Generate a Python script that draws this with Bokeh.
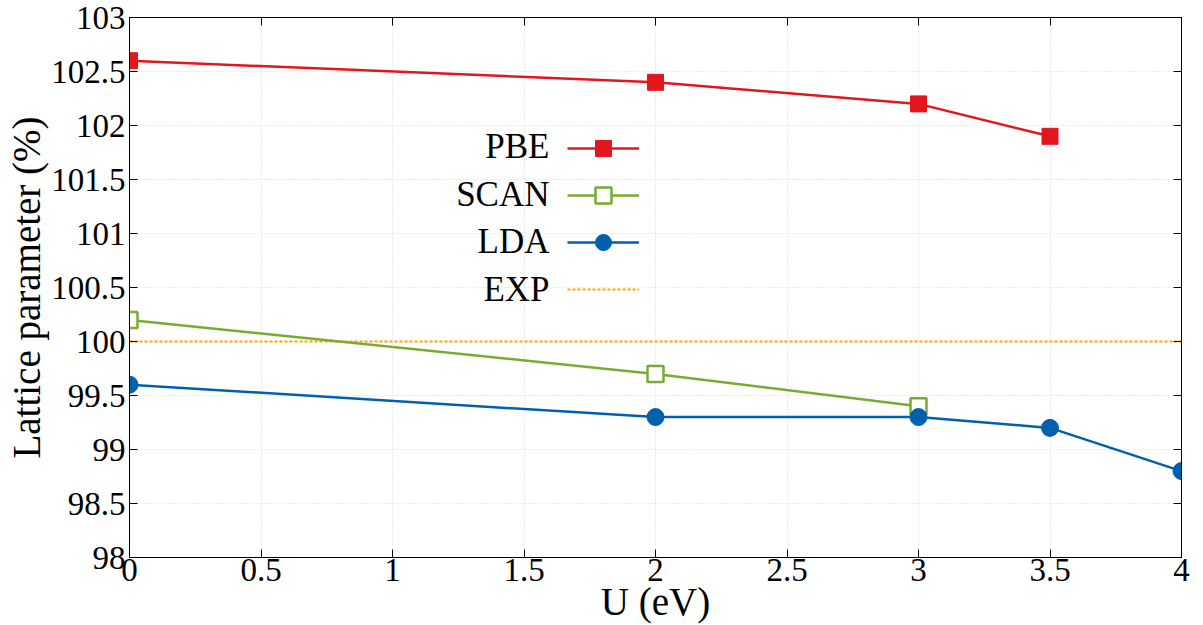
from bokeh.plotting import figure
from bokeh.models import LinearAxis, Legend, LegendItem, Label, FixedTicker, Range1d
from bokeh.core.properties import value
from bokeh.embed import file_html
from bokeh.resources import INLINE

# Data
pbe_u = [0, 2, 3, 3.5]
pbe_val = [102.6, 102.4, 102.2, 101.9]
scan_u = [0, 2, 3]
scan_val = [100.2, 99.7, 99.4]
lda_u = [0, 2, 3, 3.5, 4]
lda_val = [99.6, 99.3, 99.3, 99.2, 98.8]
exp_u = [0, 4]
exp_val = [100, 100]
x_ticks = [0, 0.5, 1, 1.5, 2, 2.5, 3, 3.5, 4]
y_ticks = [98, 98.5, 99, 99.5, 100, 100.5, 101, 101.5, 102, 102.5, 103]
series_names = ["PBE", "SCAN", "LDA", "EXP"]

FONT = "Liberation Serif"
FS = "33px"
AFS = "39px"
LFS = "35px"
RED = "#E3161E"
GREEN = "#77AC30"
BLUE = "#0060AD"
ORANGE = "#FFA500"

p = figure(width=1203, height=625, output_backend="svg", toolbar_location=None,
           x_range=Range1d(0, 4), y_range=Range1d(98, 103),
           min_border_left=129, min_border_right=22, min_border_top=17, min_border_bottom=67)
p.background_fill_color = "white"
p.border_fill_color = "white"
p.outline_line_color = "black"
p.outline_line_width = 1

for ax in (p.xaxis[0], p.yaxis[0]):
    ax.major_label_text_font = FONT
    ax.major_label_text_font_size = FS
    ax.axis_label_text_font = FONT
    ax.axis_label_text_font_size = AFS
    ax.axis_label_text_font_style = "normal"
    ax.major_tick_in = 8
    ax.major_tick_out = 0
    ax.minor_tick_in = 0
    ax.minor_tick_out = 0
    ax.axis_line_color = "black"
    ax.major_tick_line_color = "black"
    ax.major_label_text_color = "black"
    ax.axis_label_text_color = "black"

p.xaxis[0].ticker = FixedTicker(ticks=x_ticks)
p.yaxis[0].ticker = FixedTicker(ticks=y_ticks)
p.xaxis[0].axis_label = "U (eV)"
p.yaxis[0].axis_label = "Lattice parameter (%)"
p.xaxis[0].major_label_standoff = 1
p.xaxis[0].axis_label_standoff = -4
p.yaxis[0].major_label_standoff = 4
p.yaxis[0].axis_label_standoff = 0

top = LinearAxis(ticker=FixedTicker(ticks=x_ticks),
                 major_label_overrides={t: "" for t in x_ticks},
                 major_tick_in=8, major_tick_out=0, minor_tick_in=0, minor_tick_out=0,
                 major_label_standoff=0, major_label_text_font_size="1px")
right = LinearAxis(ticker=FixedTicker(ticks=y_ticks),
                   major_label_overrides={t: "" for t in y_ticks},
                   major_tick_in=8, major_tick_out=0, minor_tick_in=0, minor_tick_out=0,
                   major_label_standoff=0, major_label_text_font_size="1px")
p.add_layout(top, "above")
p.add_layout(right, "right")

p.xgrid.ticker = FixedTicker(ticks=x_ticks)
p.ygrid.ticker = FixedTicker(ticks=y_ticks)
for g in (p.xgrid[0], p.ygrid[0]):
    g.grid_line_color = "#d9d9d9"
    g.grid_line_dash = "1 2"
    g.grid_line_width = 1

# Series
exp_line = p.line(exp_u, exp_val, line_color=ORANGE, line_width=2, line_dash="3 2")

pbe_line = p.line(pbe_u, pbe_val, line_color=RED, line_width=2.5)
pbe_pts = p.scatter(pbe_u, pbe_val, marker="square", size=16, fill_color=RED, line_color=RED)

scan_line = p.line(scan_u, scan_val, line_color=GREEN, line_width=2.5)
scan_pts = p.scatter(scan_u, scan_val, marker="square", size=16, fill_color="white",
                     line_color=GREEN, line_width=2.5)

lda_line = p.line(lda_u, lda_val, line_color=BLUE, line_width=2.5)
lda_pts = p.scatter(lda_u, lda_val, marker="circle", size=17, fill_color=BLUE, line_color=BLUE)

legend = Legend(items=[
    LegendItem(label=value(""), renderers=[pbe_line, pbe_pts]),
    LegendItem(label=value(""), renderers=[scan_line, scan_pts]),
    LegendItem(label=value(""), renderers=[lda_line, lda_pts]),
    LegendItem(label=value(""), renderers=[exp_line]),
], location=(438, 248), glyph_width=72, glyph_height=40, label_height=40, label_width=0,
   label_standoff=0, spacing=7, padding=0, margin=0, border_line_alpha=0,
   background_fill_alpha=0, label_text_font_size="1px")
p.add_layout(legend, "center")

# legend labels (right aligned to the left of the glyphs)
legend_rows_y = [131, 178.5, 226, 273.5]
for name, yy in zip(series_names, legend_rows_y):
    p.add_layout(Label(x=420, y=542 - yy, x_units="screen", y_units="screen", text=name,
                       text_font=FONT, text_font_size=LFS, text_align="right",
                       text_baseline="middle", text_color="black"))

open("out.html", "w").write(file_html(p, INLINE))
